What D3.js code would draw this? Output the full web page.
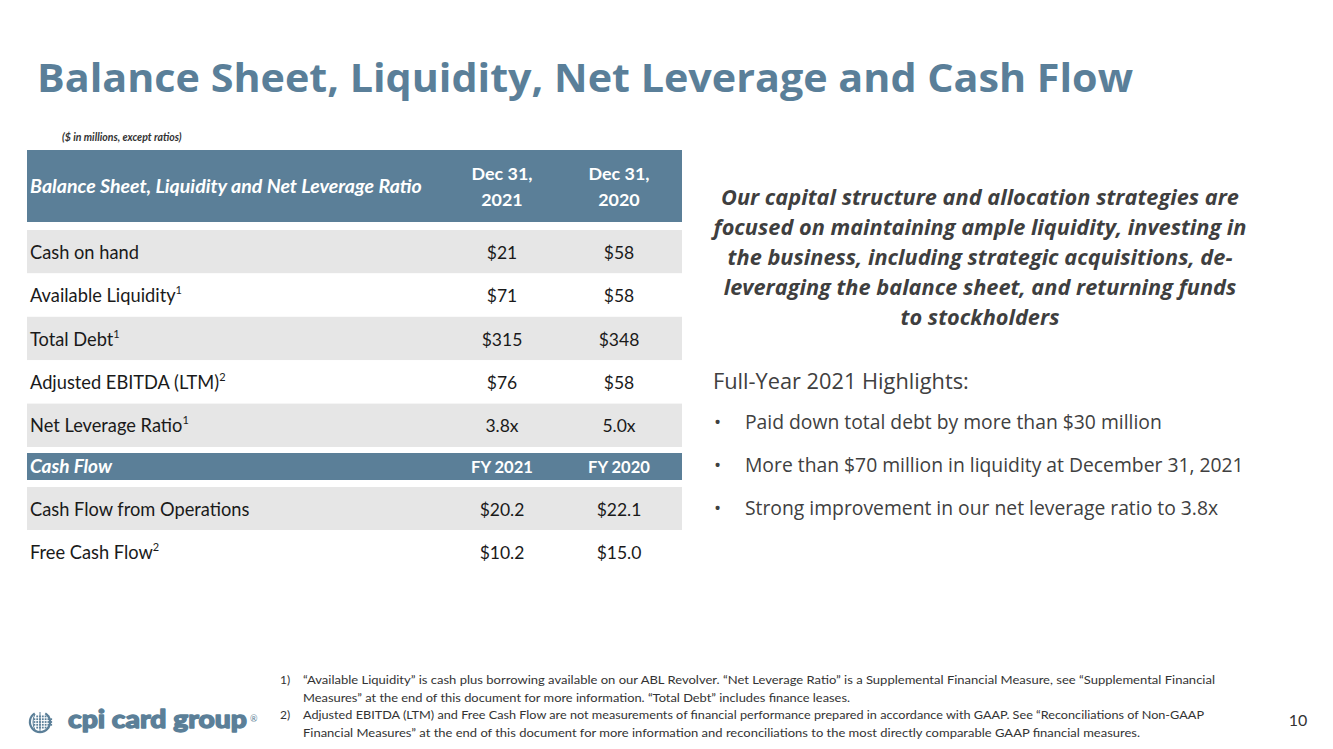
<!DOCTYPE html>
<html><head><meta charset="utf-8">
<script src="https://cdn.jsdelivr.net/npm/d3@7"></script>
<style>body{margin:0;background:#fff;}svg{display:block;}</style>
</head><body>
<script>
// ---- data ----
const titleText = "Balance Sheet, Liquidity, Net Leverage and Cash Flow";
const unitsNote = "($ in millions, except ratios)";
const bsHeader = "Balance Sheet, Liquidity and Net Leverage Ratio";
const bsColumns = [["Dec 31,", "2021"], ["Dec 31,", "2020"]];
const bsLabels = ["Cash on hand", "Available Liquidity", "Total Debt", "Adjusted EBITDA (LTM)", "Net Leverage Ratio"];
const bsNotes = ["", "1", "1", "2", "1"];
const bs2021 = ["$21", "$71", "$315", "$76", "3.8x"];
const bs2020 = ["$58", "$58", "$348", "$58", "5.0x"];
const cfHeader = "Cash Flow";
const cfColumns = ["FY 2021", "FY 2020"];
const cfLabels = ["Cash Flow from Operations", "Free Cash Flow"];
const cfNotes = ["", "2"];
const cf2021 = ["$20.2", "$10.2"];
const cf2020 = ["$22.1", "$15.0"];
const quoteLines = ["Our capital structure and allocation strategies are", "focused on maintaining ample liquidity, investing in", "the business, including strategic acquisitions, de-", "leveraging the balance sheet, and returning funds", "to stockholders"];
const highlightsTitle = "Full-Year 2021 Highlights:";
const highlights = ["Paid down total debt by more than $30 million", "More than $70 million in liquidity at December 31, 2021", "Strong improvement in our net leverage ratio to 3.8x"];
const footnoteNums = ["1)", "", "2)", ""];
const footnoteLines = [
 "\u201CAvailable Liquidity\u201D is cash plus borrowing available on our ABL Revolver. \u201CNet Leverage Ratio\u201D is a Supplemental Financial  Measure, see \u201CSupplemental Financial",
 "Measures\u201D at the end of this document for more information.  \u201CTotal Debt\u201D includes finance leases.",
 "Adjusted EBITDA (LTM) and Free Cash Flow are not measurements of financial performance prepared in accordance with GAAP. See  \u201CReconciliations of Non-GAAP",
 "Financial Measures\u201D at the end of this document for more information and reconciliations to the most directly comparable GAAP financial measures."
];
const footnoteWidths = [912, 547, 901, 837];
const pageNumber = "10";
const logoText = "cpi card group";

// ---- drawing ----
const W = 1333, H = 749;
const blue = "#5b7f98", gray = "#e6e6e6", dark = "#404040";
const svg = d3.select("body").append("svg").attr("width", W).attr("height", H);
const body = "Lato, 'Open Sans', sans-serif";
const osans = "'Open Sans', sans-serif";

// scale font-size of a text so its rendered width matches a target width
function fitSize(family, weight, style, text, target) {
  const t = svg.append("text").style("font-family", family).style("font-weight", weight)
    .style("font-style", style).style("font-size", "20px").text(text);
  const w = t.node().getComputedTextLength();
  t.remove();
  return 20 * target / w;
}

svg.append("text").attr("x", 37).attr("y", 92).attr("fill", "#5a7f99")
  .style("font-family", osans).style("font-weight", 700).style("font-size", "39px")
  .attr("textLength", 1096).attr("lengthAdjust", "spacingAndGlyphs").text(titleText);

svg.append("text").attr("x", 62).attr("y", 141).attr("fill", "#333")
  .style("font-family", body).style("font-weight", 700).style("font-style", "italic").style("font-size", "10.5px")
  .text(unitsNote);

const tableX0 = 27, tableX1 = 682;
const colX = d3.scalePoint().domain([0, 1]).range([502, 619]);

// header
const hdrSize = fitSize(body, 700, "italic", bsHeader, 392);
const decSize = fitSize(body, 700, "normal", "Dec 31,", 61);
svg.append("rect").attr("x", tableX0).attr("y", 150).attr("width", tableX1 - tableX0).attr("height", 72).attr("fill", blue);
svg.append("text").attr("x", 30).attr("y", 193).attr("fill", "#fff")
  .style("font-family", body).style("font-weight", 700).style("font-style", "italic").style("font-size", hdrSize + "px")
  .text(bsHeader);
bsColumns.forEach((c, i) => {
  c.forEach((line, j) => {
    svg.append("text").attr("x", colX(i)).attr("y", 180 + j * 26).attr("text-anchor", "middle").attr("fill", "#fff")
      .style("font-family", body).style("font-weight", 700).style("font-size", decSize + "px").text(line);
  });
});

const labelSize = fitSize(body, 400, "normal", "Cash on hand", 109);
function drawRows(labels, notes, v1, v2, y0, y1, startGray) {
  const y = d3.scaleBand().domain(d3.range(labels.length)).range([y0, y1]).padding(0);
  const g = svg.append("g");
  const rows = g.selectAll("g").data(labels).join("g");
  rows.append("rect").attr("x", tableX0).attr("y", (d, i) => y(i)).attr("width", tableX1 - tableX0)
    .attr("height", y.bandwidth()).attr("fill", (d, i) => (i % 2 === 0) === startGray ? gray : "#fff");
  const t = rows.append("text").attr("x", 30).attr("y", (d, i) => y(i) + y.bandwidth() / 2 + 7).attr("fill", "#1a1a1a")
    .style("font-family", body).style("font-size", labelSize + "px");
  t.append("tspan").text(d => d);
  t.append("tspan").attr("dy", -8).style("font-size", "11px").text((d, i) => notes[i]);
  rows.append("text").attr("x", colX(0)).attr("y", (d, i) => y(i) + y.bandwidth() / 2 + 7).attr("text-anchor", "middle")
    .attr("fill", "#1a1a1a").style("font-family", body).style("font-size", "17.5px").text((d, i) => v1[i]);
  rows.append("text").attr("x", colX(1)).attr("y", (d, i) => y(i) + y.bandwidth() / 2 + 7).attr("text-anchor", "middle")
    .attr("fill", "#1a1a1a").style("font-family", body).style("font-size", "17.5px").text((d, i) => v2[i]);
}
drawRows(bsLabels, bsNotes, bs2021, bs2020, 230, 447, true);

// cash flow header
const cfSize = fitSize(body, 700, "italic", cfHeader, 82);
const fySize = fitSize(body, 700, "normal", "FY 2021", 62);
svg.append("rect").attr("x", tableX0).attr("y", 453).attr("width", tableX1 - tableX0).attr("height", 27).attr("fill", blue);
svg.append("text").attr("x", 30).attr("y", 473).attr("fill", "#fff")
  .style("font-family", body).style("font-weight", 700).style("font-style", "italic").style("font-size", cfSize + "px").text(cfHeader);
cfColumns.forEach((c, i) => svg.append("text").attr("x", colX(i)).attr("y", 473).attr("text-anchor", "middle").attr("fill", "#fff")
  .style("font-family", body).style("font-weight", 700).style("font-size", fySize + "px").text(c));
drawRows(cfLabels, cfNotes, cf2021, cf2020, 487, 573, true);

// quote
const qSize = fitSize(osans, 700, "italic", quoteLines[0], 518);
quoteLines.forEach((l, i) => svg.append("text").attr("x", 980).attr("y", 205 + i * 30).attr("text-anchor", "middle")
  .attr("fill", "#3f3f3f").style("font-family", osans).style("font-weight", 700).style("font-style", "italic")
  .style("font-size", qSize + "px").text(l));

const htSize = fitSize(osans, 400, "normal", highlightsTitle, 256);
svg.append("text").attr("x", 713).attr("y", 389).attr("fill", dark)
  .style("font-family", osans).style("font-size", htSize + "px").text(highlightsTitle);
const bSize = fitSize(osans, 400, "normal", highlights[0], 417);
highlights.forEach((h, i) => {
  svg.append("text").attr("x", 714).attr("y", 429 + i * 43).attr("fill", dark)
    .style("font-family", osans).style("font-size", "19px").text("\u2022");
  svg.append("text").attr("x", 745).attr("y", 429 + i * 43).attr("fill", dark)
    .style("font-family", osans).style("font-size", bSize + "px").text(h);
});

// footnotes
footnoteLines.forEach((l, i) => {
  const yy = 684 + i * 17.5;
  if (footnoteNums[i]) svg.append("text").attr("x", 280).attr("y", yy).attr("fill", "#333")
    .style("font-family", body).style("font-size", "12px").text(footnoteNums[i]);
  svg.append("text").attr("x", 303).attr("y", yy).attr("fill", "#333")
    .style("font-family", body).style("font-size", "12px")
    .attr("textLength", footnoteWidths[i]).attr("lengthAdjust", "spacingAndGlyphs").text(l);
});
svg.append("text").attr("x", 1298).attr("y", 726).attr("text-anchor", "middle").attr("fill", "#333")
  .style("font-family", body).style("font-size", "16px").text(pageNumber);

// logo
const logo = svg.append("g").attr("transform", "translate(40,722)");
logo.append("path").attr("d", d3.arc()({innerRadius: 9, outerRadius: 11.2, startAngle: 0.55, endAngle: 2 * Math.PI - 0.55}))
  .attr("fill", blue);
d3.range(-2, 3).forEach(r => d3.range(-2, 5).forEach(c => {
  const px = c * 2.8, py = r * 2.8;
  if (Math.abs(r) === 2 && (c < -1 || c > 3)) return;
  logo.append("rect").attr("x", px - 0.9).attr("y", py - 0.9).attr("width", 1.8).attr("height", 1.8).attr("fill", blue);
}));
logo.append("path").attr("d", "M-5,-8 Q-9,0 -5,8 M0,-10 L0,10").attr("stroke", blue).attr("stroke-width", 1).attr("fill", "none");
svg.append("text").attr("x", 68).attr("y", 728).attr("fill", blue)
  .attr("stroke", blue).attr("stroke-width", 1.3).attr("stroke-linejoin", "round")
  .style("font-family", "Lato, sans-serif").style("font-weight", 900).style("font-size", "25px")
  .attr("textLength", 179).attr("lengthAdjust", "spacingAndGlyphs").text(logoText);
svg.append("text").attr("x", 250).attr("y", 722).attr("fill", blue)
  .style("font-family", body).style("font-size", "9px").text("\u00AE");
</script>
</body></html>
